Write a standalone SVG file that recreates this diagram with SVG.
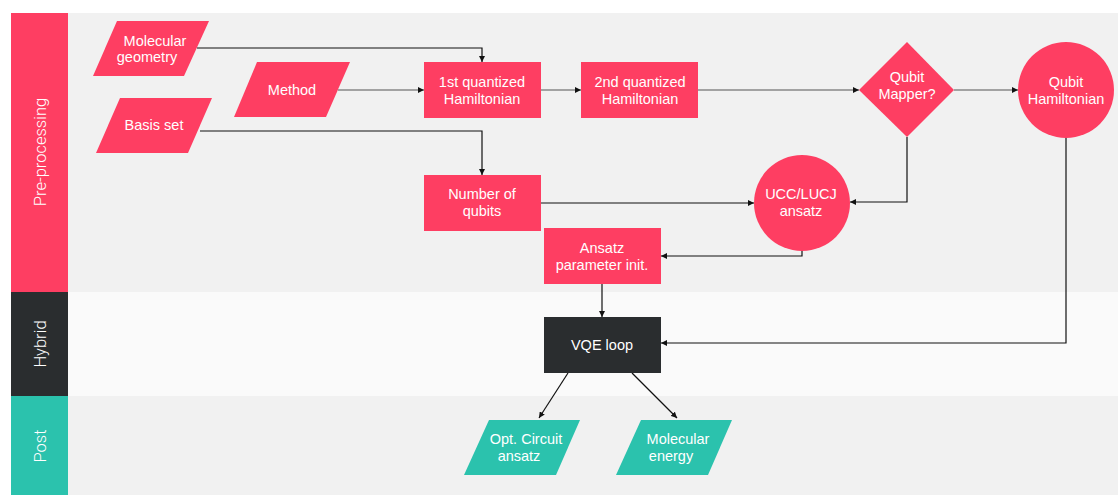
<svg xmlns="http://www.w3.org/2000/svg" width="1118" height="495" viewBox="0 0 1118 495">
<style>
.red{fill:#fe3e62}
.teal{fill:#2bc2ad}
.dark{fill:#2a2d2f}
.t{font-family:"Liberation Sans",Arial,sans-serif;font-size:14.5px;fill:#fff;text-anchor:middle}
.lane{font-family:Roboto,"Liberation Sans",sans-serif;font-weight:300;font-size:16.5px;fill:#fff;text-anchor:middle}
.c{fill:none;stroke:#111;stroke-width:1.2}
</style>
<defs>
<marker id="ah" viewBox="0 0 10 10" refX="10" refY="5" markerWidth="6" markerHeight="6" orient="auto" markerUnits="userSpaceOnUse">
<path d="M0,0 L10,5 L0,10 Z" fill="#111"/>
</marker>
</defs>
<rect width="1118" height="495" fill="#fff"/>
<g id="lanes">
<rect x="11" y="13" width="1107" height="279" fill="#f1f1f1"/>
<rect x="11" y="292" width="1107" height="104" fill="#fafafa"/>
<rect x="11" y="396" width="1107" height="99" fill="#f1f1f1"/>
<rect x="11" y="13" width="57" height="279" class="red"/>
<rect x="11" y="292" width="57" height="104" class="dark"/>
<rect x="11" y="396" width="57" height="99" class="teal"/>
<text class="lane" transform="translate(46,152) rotate(-90)">Pre-processing</text>
<text class="lane" transform="translate(46,344) rotate(-90)">Hybrid</text>
<text class="lane" transform="translate(46,446) rotate(-90)">Post</text>
</g>
<g id="connectors">
<path class="c" d="M197,48 H482 V62" marker-end="url(#ah)"/>
<path class="c" d="M338,90 H424" marker-end="url(#ah)" style="stroke:#555"/>
<path class="c" d="M200,131 H482 V175" marker-end="url(#ah)"/>
<path class="c" d="M541,90 H581" marker-end="url(#ah)" style="stroke:#555"/>
<path class="c" d="M698,90 H859" marker-end="url(#ah)" style="stroke:#555"/>
<path class="c" d="M954,90 H1018" marker-end="url(#ah)" style="stroke:#555"/>
<path class="c" d="M907,137 V202 H850" marker-end="url(#ah)"/>
<path class="c" d="M541,203 H754" marker-end="url(#ah)"/>
<path class="c" d="M802,251 V256 H661" marker-end="url(#ah)"/>
<path class="c" d="M602,284 V317" marker-end="url(#ah)"/>
<path class="c" d="M1066,138 V343 H661" marker-end="url(#ah)"/>
<path class="c" d="M568,373 L539,418" marker-end="url(#ah)"/>
<path class="c" d="M632,373 L677,418" marker-end="url(#ah)"/>
</g>
<g id="molecular-geometry">
<polygon class="red" points="117,21 209,21 184,76 93,76"/>
<text class="t" x="155" y="46">Molecular</text>
<text class="t" x="147" y="62">geometry</text>
</g>
<g id="basis-set">
<polygon class="red" points="120,98 212,98 188,153 96,153"/>
<text class="t" x="154" y="130">Basis set</text>
</g>
<g id="method">
<polygon class="red" points="257,62 350,62 326,117 234,117"/>
<text class="t" x="292" y="95">Method</text>
</g>
<g id="first-quantized">
<rect class="red" x="424" y="62" width="117" height="56"/>
<text class="t" x="482" y="87">1st quantized</text>
<text class="t" x="482" y="104">Hamiltonian</text>
</g>
<g id="second-quantized">
<rect class="red" x="581" y="62" width="117" height="56"/>
<text class="t" x="640" y="87">2nd quantized</text>
<text class="t" x="640" y="104">Hamiltonian</text>
</g>
<g id="qubit-mapper">
<polygon class="red" points="907,42 954,90 907,137 859,90"/>
<text class="t" x="907" y="82">Qubit</text>
<text class="t" x="907" y="99">Mapper?</text>
</g>
<g id="qubit-hamiltonian">
<circle class="red" cx="1066" cy="90" r="48"/>
<text class="t" x="1066" y="87">Qubit</text>
<text class="t" x="1066" y="104">Hamiltonian</text>
</g>
<g id="number-of-qubits">
<rect class="red" x="424" y="175" width="117" height="56"/>
<text class="t" x="482" y="199">Number of</text>
<text class="t" x="482" y="216">qubits</text>
</g>
<g id="ucc-ansatz">
<circle class="red" cx="802" cy="203" r="48"/>
<text class="t" x="801" y="199">UCC/LUCJ</text>
<text class="t" x="801" y="216">ansatz</text>
</g>
<g id="ansatz-param">
<rect class="red" x="544" y="228" width="117" height="56"/>
<text class="t" x="602" y="253">Ansatz</text>
<text class="t" x="602" y="270">parameter init.</text>
</g>
<g id="vqe-loop">
<rect class="dark" x="544" y="317" width="117" height="56"/>
<text class="t" x="602" y="350">VQE loop</text>
</g>
<g id="opt-circuit">
<polygon class="teal" points="489,420 580,420 556,475 464,475"/>
<text class="t" x="526" y="444">Opt. Circuit</text>
<text class="t" x="519" y="461">ansatz</text>
</g>
<g id="molecular-energy">
<polygon class="teal" points="641,420 732,420 708,475 616,475"/>
<text class="t" x="678" y="444">Molecular</text>
<text class="t" x="671" y="461">energy</text>
</g>
</svg>
